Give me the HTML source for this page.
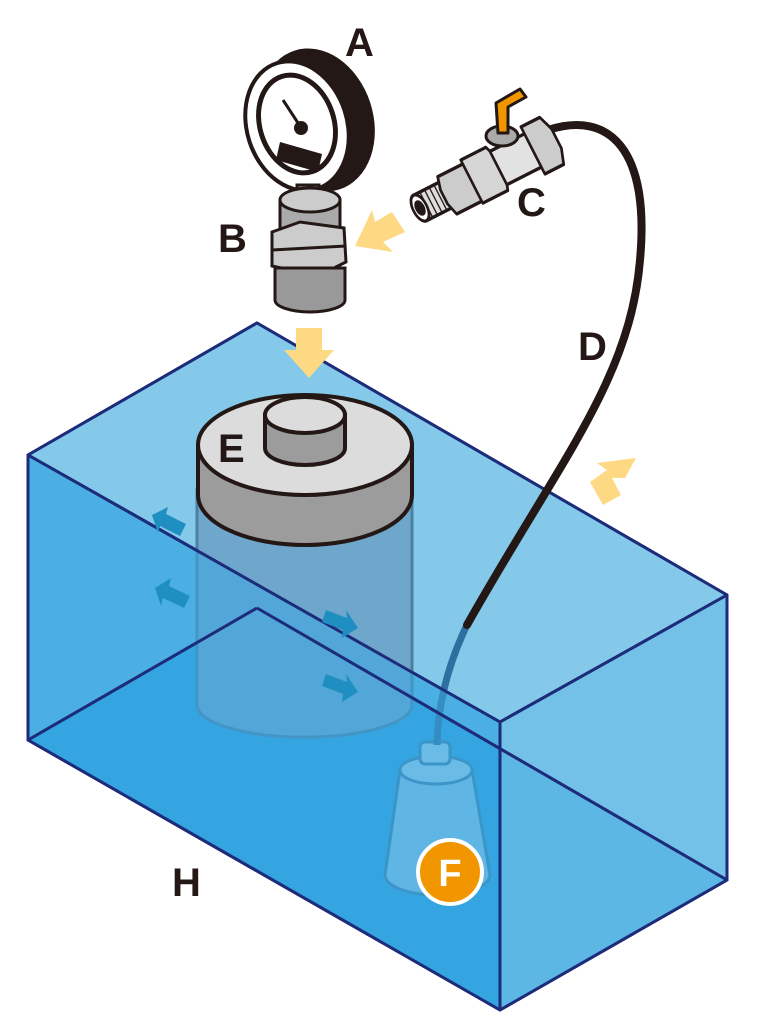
<!DOCTYPE html>
<html><head><meta charset="utf-8"><style>
html,body{margin:0;padding:0;background:#fff;}
svg{display:block;}
text{font-family:"Liberation Sans",sans-serif;font-weight:bold;fill:#231815;}
</style></head><body>
<svg width="763" height="1024" viewBox="0 0 763 1024" xmlns="http://www.w3.org/2000/svg">
<g stroke="#1d2c7a" stroke-width="3" stroke-linejoin="round">
 <polygon points="257,323 727,595 727,880 257,608" fill="#5fb9e6"/>
 <polygon points="28,455 257,323 257,608 28,740" fill="#5fb9e6"/>
 <polygon points="28,740 257,608 727,880 500,1010" fill="#2ea3df"/>
 <polygon points="28,455 257,323 727,595 500,722" fill="#84c9ea"/>
</g>
<path d="M197,490 L197,705 A107,32 0 0 0 412,705 L412,490 Z" fill="#6fa6cc" stroke="#4d7fa3" stroke-width="3"/>
<path d="M198,445 L198,495 A107,50 0 0 0 412,495 L412,445 Z" fill="#9c9c9c" stroke="#231815" stroke-width="4"/>
<ellipse cx="305" cy="445" rx="107" ry="50" fill="#dcdcdc" stroke="#231815" stroke-width="4"/>
<path d="M265,415 L265,448 A40,17 0 0 0 345,448 L345,415 Z" fill="#9c9c9c" stroke="#231815" stroke-width="4"/>
<ellipse cx="305" cy="415" rx="40" ry="18" fill="#dcdcdc" stroke="#231815" stroke-width="4"/>
<path d="M400,770 L385,875 A52,20 0 0 0 490,875 L472,770 Z" fill="#8cc7e6" stroke="#3d7fa8" stroke-width="3"/>
<ellipse cx="436" cy="770" rx="36" ry="14" fill="#a4d3ea" stroke="#3d7fa8" stroke-width="3"/>
<rect x="420" y="742" width="30" height="22" rx="5" fill="#a4d3ea" stroke="#3d7fa8" stroke-width="3"/>
<path d="M467,625 C450,660 438,700 437,745" fill="none" stroke="#2d6f9e" stroke-width="7"/>
<g stroke="#1d2c7a" stroke-width="3" stroke-linejoin="round">
 <polygon points="28,455 500,722 500,1010 28,740" fill="#3aa8e1" fill-opacity="0.55"/>
 <polygon points="500,722 727,595 727,880 500,1010" fill="#84c9ea" fill-opacity="0.55"/>
 <line x1="28" y1="740" x2="257" y2="608"/>
 <line x1="257" y1="608" x2="727" y2="880"/>
</g>
<g fill="#1f8fc1">
 <polygon points="152,515 168,507 166,514 186,524 180,536 160,526 158,533"/>
 <polygon points="155,588 171,578 169,586 190,596 184,608 163,598 161,606"/>
 <polygon points="358,628 342,638 343,630 322,622 326,610 347,618 346,610"/>
 <polygon points="358,692 342,702 343,694 322,686 326,674 347,682 346,674"/>
</g>
<path d="M548,130 C610,110 650,150 640,260 C630,380 560,460 467,625" fill="none" stroke="#231815" stroke-width="8" stroke-linecap="round"/>
<g fill="#fdd983">
 <polygon points="296,328 322,328 322,350 334,350 309,378 284,350 296,350"/>
 <polygon points="405,232 392,212 375,222 372,210 355,246 393,252 383,242"/>
 <polygon points="603,505 621,495 612,478 625,478 636,458 597,463 607,470 590,482"/>
</g>
<ellipse cx="317" cy="120" rx="56" ry="73" transform="rotate(-18 317 120)" fill="#231815"/>
<ellipse cx="297" cy="126" rx="50" ry="66" transform="rotate(-18 297 126)" fill="#fff" stroke="#231815" stroke-width="4"/>
<ellipse cx="297" cy="124" rx="37" ry="50" transform="rotate(-18 297 124)" fill="#fff" stroke="#231815" stroke-width="5"/>
<polygon points="280,142 322,154 318,172 276,160" fill="#231815"/>
<line x1="283" y1="100" x2="300" y2="126" stroke="#231815" stroke-width="3"/>
<circle cx="301" cy="128" r="7" fill="#231815"/>
<rect x="297" y="185" width="22" height="30" fill="#aaa" stroke="#231815" stroke-width="3"/>
<path d="M280,200 L280,240 L340,240 L340,200 Z" fill="#aaa" stroke="#231815" stroke-width="3"/>
<ellipse cx="310" cy="200" rx="30" ry="12" fill="#ccc" stroke="#231815" stroke-width="3"/>
<polygon points="272,232 300,222 344,228 346,262 318,276 272,266" fill="#ccc" stroke="#231815" stroke-width="3"/>
<line x1="272" y1="250" x2="346" y2="246" stroke="#231815" stroke-width="3"/>
<path d="M275,268 L275,300 A35,12 0 0 0 345,300 L345,268 Z" fill="#999" stroke="#231815" stroke-width="3"/>
<g transform="translate(420,208) rotate(-27) scale(0.88,1.1)" stroke="#231815" stroke-width="3" stroke-linejoin="round">
 <rect x="0" y="-13" width="36" height="26" fill="#ddd"/>
 <g stroke-width="1.5"><line x1="8" y1="-13" x2="8" y2="13"/><line x1="14" y1="-13" x2="14" y2="13"/><line x1="20" y1="-13" x2="20" y2="13"/><line x1="26" y1="-13" x2="26" y2="13"/></g>
 <ellipse cx="0" cy="0" rx="8" ry="13" fill="#fff"/>
 <ellipse cx="0" cy="0" rx="4" ry="6" fill="#231815"/>
 <polygon points="34,-18 66,-18 72,-6 72,8 66,20 34,20 30,8 30,-6" fill="#ccc"/>
 <polygon points="66,-22 98,-22 104,-8 104,8 98,22 66,22" fill="#d6d6d6"/>
 <rect x="100" y="-17" width="48" height="34" fill="#e2e2e2"/>
 <polygon points="144,-24 168,-24 174,-10 174,10 168,24 144,24" fill="#ccc"/>
</g>
<ellipse cx="502" cy="136" rx="16" ry="10" fill="#aaa" stroke="#231815" stroke-width="3"/>
<polygon points="496,103 520,89 526,97 508,107 508,133 498,133" fill="#f29600" stroke="#231815" stroke-width="3" stroke-linejoin="round"/>
<text x="345" y="56" font-size="40">A</text>
<text x="218" y="252" font-size="40">B</text>
<text x="517" y="216" font-size="40">C</text>
<text x="578" y="360" font-size="40">D</text>
<text x="218" y="462" font-size="40">E</text>
<text x="172" y="896" font-size="40">H</text>
<circle cx="450" cy="872" r="32" fill="#f29600" stroke="#fff" stroke-width="4"/>
<text x="450" y="886" font-size="38" text-anchor="middle" style="fill:#fff">F</text>
</svg>
</body></html>
